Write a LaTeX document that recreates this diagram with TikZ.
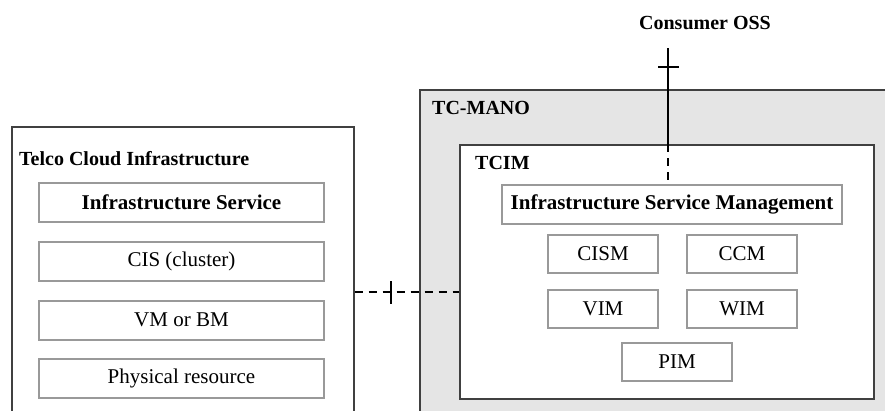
\documentclass[tikz,border=0pt]{standalone}
\usepackage{fontspec}
\setmainfont{Liberation Serif}
\usetikzlibrary{positioning}
\colorlet{manogray}{black!10}
\colorlet{boxgray}{black!40}
\tikzstyle{frame}=[draw=black!75,line width=1.5pt,inner sep=0pt]
\tikzstyle{box}=[draw=boxgray,line width=2pt,fill=white,inner sep=0pt,
  font=\fontsize{21}{25}\selectfont]
\tikzstyle{boldbox}=[box,font=\fontsize{21}{25}\selectfont\bfseries]
\tikzstyle{bigbox}=[box,minimum width=285pt,minimum height=39pt]
\tikzstyle{smallbox}=[box,minimum width=110pt,minimum height=38pt]
\tikzstyle{title}=[anchor=west,inner sep=0pt,
  font=\fontsize{20}{24}\selectfont\bfseries]
\tikzstyle{link}=[line width=2pt]
\tikzstyle{dashlink}=[link,dash pattern=on 8pt off 6pt]

\begin{document}
\begin{tikzpicture}[x=1pt, y=-1pt, on grid]
  \useasboundingbox (0,0) rectangle (885,410);
  \clip (0,0) rectangle (885,410);

  % infrastructure side
  \node[frame, anchor=north west, minimum width=342pt, minimum height=330pt]
    (tci) at (11,126) {};
  \node[title] (tcilabel) at (19,159) {Telco Cloud Infrastructure};
  \node[bigbox, boldbox] (is) at (181.5,202.5) {Infrastructure Service};
  \node[bigbox, below=59pt of is] (cis) {CIS (cluster)};
  \node[bigbox, below=58.5pt of cis] (vm) {VM or BM};
  \node[bigbox, below=58.5pt of vm] (phys) {Physical resource};

  % management side
  \node[frame, fill=manogray, anchor=north west, minimum width=500pt,
    minimum height=360pt] (mano) at (419,89) {};
  \node[title] (manolabel) at (432,108) {TC-MANO};
  \node[frame, fill=white, anchor=north west, minimum width=414pt,
    minimum height=254pt] (tcim) at (459,144) {};
  \node[title] (tcimlabel) at (475,163) {TCIM};
  \node[boldbox, minimum width=340pt, minimum height=39pt]
    (ism) at (672,204.5) {Infrastructure Service Management};
  \node[smallbox] (cism) at (603,254) {CISM};
  \node[smallbox, right=139pt of cism] (ccm) {CCM};
  \node[smallbox, below=54.5pt of cism] (vim) {VIM};
  \node[smallbox, right=139pt of vim] (wim) {WIM};
  \node[smallbox] (pim) at (677,362) {PIM};

  \node[title, anchor=center] (oss) at (705,23) {Consumer OSS};
  \coordinate (ossend) at (668,48);
  \coordinate (ifpoint) at (391,292);

  % interfaces
  \draw[link] (ossend) -- (ossend |- tcim.north);
  \draw[dashlink] (ossend |- tcim.north) -- (ossend |- ism.north);
  \draw[link] (ossend) ++(-10,19) -- ++(21,0);
  \draw[dashlink] (ifpoint -| tci.east) -- (ifpoint -| tcim.west);
  \draw[link] (ifpoint) ++(0,-11) -- ++(0,23);
\end{tikzpicture}
\end{document}
